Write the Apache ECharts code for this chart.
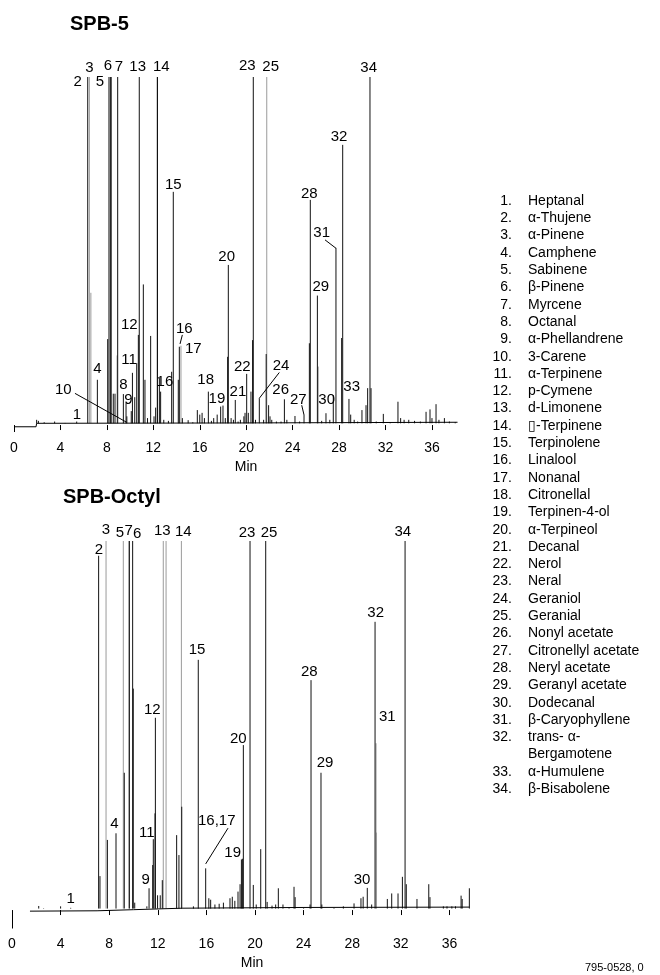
<!DOCTYPE html>
<html><head><meta charset="utf-8">
<script src="https://cdn.jsdelivr.net/npm/echarts@6/dist/echarts.min.js"></script>
<style>html,body{margin:0;padding:0;background:#fff}#c{width:660px;height:975px}</style>
</head><body><div id="c"></div>
<script>
const FONT = '"Liberation Sans", Arial, sans-serif';
const tickValues = [0,4,8,12,16,20,24,28,32,36];
const compounds = ['Heptanal','α-Thujene','α-Pinene','Camphene','Sabinene','β-Pinene','Myrcene','Octanal','α-Phellandrene','3-Carene','α-Terpinene','p-Cymene','d-Limonene','\u25AF-Terpinene','Terpinolene','Linalool','Nonanal','Citronellal','Terpinen-4-ol','α-Terpineol','Decanal','Nerol','Neral','Geraniol','Geranial','Nonyl acetate','Citronellyl acetate','Neryl acetate','Geranyl acetate','Dodecanal','β-Caryophyllene','trans- α-\nBergamotene','α-Humulene','β-Bisabolene'];

// ---- SPB-5 (top) : [retention time (min), response (% full scale)]
const spb5Baseline = [[0,-0.5],[1.9,-0.5],[1.95,0.5],[20,0.6],[38.2,0.8]];
const spb5Black = [
[1.95,1.5],[2.1,1.2],[2.6,0.8],[3.5,1.0],[4.4,0.6],[5.4,1.0],
[6.35,100],[7.18,13],[8.07,24.7],[8.18,100],[8.3,100],[8.37,100],[8.55,9],[8.7,9],[8.93,100],
[9.42,8.9],[9.65,6.3],[9.72,2.5],[10.1,4],[10.2,15],[10.4,8],[10.57,17.8],[10.71,25.9],[10.79,100],
[11.14,40.4],[11.28,13],[11.5,2],[11.77,25.6],[12.06,2.5],[12.2,5],[12.36,100],[12.52,13.5],[12.63,9.6],[12.9,1.5],
[13.3,1.2],[13.58,15.3],[13.72,67],[14.15,13],[14.24,22.5],[14.5,2],[15.0,1.4],[15.4,0.8],[15.79,4.3],[16.0,3],[16.2,3.5],[16.4,2],
[16.74,9.6],[17.0,1.2],[17.2,2],[17.5,3],[17.8,5.3],[18.0,5.6],[18.2,2],[18.4,19.6],[18.46,46],[18.7,2],[18.9,1.5],
[19.06,7.2],[19.3,1],[19.5,1.5],[19.8,2.5],[19.9,3.5],[20.04,14.7],[20.18,3.5],[20.41,9.6],[20.55,24.4],[20.61,100],
[20.8,1.5],[21.13,7.7],[21.5,1.5],[21.72,20.4],[21.93,5.7],[22.05,2.5],[22.2,1.5],[22.6,1],[23.0,1],[23.29,7.4],[23.5,1.5],
[24.2,2.6],[24.6,1],[24.98,2.9],[25.44,23.5],[25.52,64.7],[26.13,37.2],[26.5,1.2],[26.87,3.4],[27.2,1.5],[27.5,8.6],[27.73,50.9],
[28.22,25],[28.31,80.5],[28.85,7.5],[29.0,3],[29.3,1.5],[29.6,1],[29.97,4.3],[30.32,5.7],[30.46,10.6],[30.66,100],[30.75,10.6],
[31.2,1],[31.81,3.2],[32.4,0.8],[33.07,6.7],[33.3,2],[33.6,1.5],[34.0,1.5],[34.5,1.2],[35.0,1],[35.49,3.8],[35.83,4.5],[36.0,2],[36.35,6],[36.6,1.5],[37.07,2],[37.5,1],[38.0,0.8]
];
const spb5Grey = [[6.49,100],[6.62,38],[8.88,20],[12.32,100],[14.38,22.8],[21.77,100],[26.2,16.8]];
const spb5Labels = [['1',5.43,2.9],['2',5.48,98.6],['3',6.49,102.5],['4',7.18,16.1],['5',7.41,98.6],['6',8.1,103.2],['7',9.04,103],['13',10.65,103],['14',12.69,103],['15',13.72,69],['23',20.1,103.2],['25',22.11,103],['34',30.55,102.7],['32',27.99,82.7],['28',25.44,66.4],['31',26.5,55.1],['20',18.32,48.4],['29',26.42,39.7],['12',9.93,28.7],['16',14.67,27.6],['17',15.44,21.8],['11',9.9,18.7],['22',19.66,16.6],['24',23.0,17],['18',16.51,12.9],['16',13.0,12.4],['8',9.42,11.5],['10',4.25,10.1],['26',22.97,10.1],['21',19.29,9.6],['33',29.08,11],['9',9.85,7.2],['19',17.48,7.6],['27',24.49,7.2],['30',26.93,7.2]];
const spb5Leaders = [[[5.25,9.1],[9.7,0.8]],[[14.5,25.9],[14.3,23.3]],[[22.85,15.1],[21.13,7.7]],[[24.78,5.7],[24.98,2.9]],[[26.79,53.2],[27.73,50.8]],[[0,-0.5],[0,-2]]];

// ---- SPB-Octyl (bottom)
const octBaseline = [[1.48,-0.3],[7,-0.2],[10,0.1],[14,0.5],[24,0.7],[37.64,0.8]];
const octBlack = [
[2.2,1.1],[2.6,0.5],[3.0,0.4],[3.4,0.4],[4.0,1.0],[4.83,0.6],
[7.13,96],[7.24,9.2],[7.85,19],[8.56,20.8],[9.24,37.2],[9.66,100],[9.93,100],[9.98,60],[10.1,2],
[11.1,1],[11.28,5.9],[11.58,12.2],[11.63,19.2],[11.77,26.2],[11.8,52.1],[11.98,4],[12.2,4],[12.37,8.1],
[13.55,20.3],[13.74,14.9],[13.97,28],[14.93,1],[15.33,67.8],[15.94,11.3],[16.2,3.2],[16.35,2.8],[16.7,1.5],[17.05,1.7],[17.4,2],
[17.94,3.2],[18.13,3.6],[18.34,2.5],[18.6,5],[18.77,7],[18.88,13.7],[18.96,13.9],[19.04,44.7],[19.59,100],[19.86,6.8],
[20.1,1.5],[20.47,16.5],[20.88,100],[21.0,2.2],[21.4,1.2],[21.7,1.5],[21.92,5.9],[22.3,1.5],[22.8,0.8],[23.21,6.3],[23.3,3.5],
[24.0,0.8],[24.53,1.5],[24.61,62.3],[25.43,37.2],[25.5,1.5],[26.5,0.6],[27.27,1],[28.15,1.8],[28.72,3.2],[28.9,3.6],[29.24,6],
[29.6,1.5],[29.88,78.1],[30.89,3],[31.25,4.5],[31.77,4.5],[32.13,9],[32.35,100],[32.45,7],[33.33,3],[34.3,7],[34.4,3.5],
[35.5,1],[35.8,1],[36.2,1],[36.5,1],[36.96,3.9],[37.05,3],[37.64,5.9]
];
const octGrey = [[7.74,100],[9.16,100],[9.62,100],[12.45,100],[12.68,100],[13.94,100],[29.96,45.2],[30.0,21]];
const octLabels = [['1',4.83,3],['2',7.16,97.6],['3',7.74,103],['5',8.89,102.2],['7',9.6,102.7],['6',10.31,101.9],['13',12.37,102.7],['14',14.1,102.4],['23',19.34,102.2],['25',21.15,102.2],['34',32.16,102.5],['15',15.23,70.5],['28',24.47,64.6],['32',29.93,80.6],['31',30.89,52.4],['12',11.55,54.2],['20',18.63,46.5],['29',25.76,39.8],['4',8.42,23.3],['11',11.09,20.8],['16,17',16.85,24.2],['19',18.16,15.5],['9',11.0,8.1],['30',28.81,8.3]];
const octLeaders = [[[17.78,22.2],[15.94,12.5]],[[0,-0.3],[0,-5]]];

const chart = echarts.init(document.getElementById('c'), null, {renderer:'canvas'});

function peakSeries(data, idx, base, color){
  return {type:'custom', xAxisIndex:idx, yAxisIndex:idx, data:data, silent:true, clip:true,
    renderItem:function(params, api){
      const t = api.value(0), h = api.value(1);
      const p0 = api.coord([t, base]), p1 = api.coord([t, h]);
      return {type:'line', shape:{x1:p0[0],y1:p0[1],x2:p1[0],y2:p1[1]}, style:{stroke:color, lineWidth:1}};
    }};
}
function labelSeries(data, idx){
  return {type:'scatter', xAxisIndex:idx, yAxisIndex:idx, clip:false, silent:true, symbolSize:1,
    itemStyle:{color:'rgba(0,0,0,0)'},
    data:data.map(d=>({name:d[0], value:[d[1],d[2]]})),
    label:{show:true, position:'inside', formatter:p=>p.name, color:'#000', fontSize:15, fontFamily:FONT,
      textBorderWidth:0, textBorderColor:'transparent', opacity:1}};
}
function leaderSeries(data, idx){
  return {type:'lines', coordinateSystem:'cartesian2d', xAxisIndex:idx, yAxisIndex:idx, silent:true,
    data:data.map(c=>({coords:c})), lineStyle:{color:'#000', width:1, opacity:1}};
}
function baseSeries(data, idx){
  return {type:'line', xAxisIndex:idx, yAxisIndex:idx, data:data, showSymbol:false, silent:true,
    lineStyle:{color:'#000', width:1}};
}
function xAxisCfg(idx){
  return {type:'value', gridIndex:idx, min:0, max:38.5, interval:4,
    axisLine:{show:false}, splitLine:{show:false},
    axisTick:{show:true, length:5, customValues:tickValues, lineStyle:{color:'#000'}},
    axisLabel:{show:true, customValues:tickValues, margin:9, color:'#000', fontSize:14, fontFamily:FONT}};
}

const legendEls = [];
let row = 0;
const rowH = 17.3, y0 = 201;
compounds.forEach((name, i) => {
  const y = y0 + row*rowH;
  legendEls.push({type:'text', x:512, y:y, style:{text:(i+1)+'.', font:'14px '+FONT, fill:'#000', align:'right', verticalAlign:'middle'}});
  name.split('\n').forEach((ln, k) => {
    legendEls.push({type:'text', x:528, y:y + k*rowH, style:{text:ln, font:'14px '+FONT, fill:'#000', align:'left', verticalAlign:'middle'}});
  });
  row += name.split('\n').length;
});

chart.setOption({
  animation:false,
  backgroundColor:'#fff',
  grid:[
    {left:14, top:77, width:447, height:355},
    {left:12, top:541, width:467.8, height:387.5}
  ],
  xAxis:[xAxisCfg(0), xAxisCfg(1)],
  yAxis:[
    {type:'value', gridIndex:0, min:-2, max:100, show:false},
    {type:'value', gridIndex:1, min:-5, max:100, show:false}
  ],
  series:[
    baseSeries(spb5Baseline,0), peakSeries(spb5Grey,0,0.5,'#9a9a9a'), peakSeries(spb5Black,0,0.5,'#111'),
    labelSeries(spb5Labels,0), leaderSeries(spb5Leaders,0),
    baseSeries(octBaseline,1), peakSeries(octGrey,1,0.4,'#9a9a9a'), peakSeries(octBlack,1,0.4,'#111'),
    labelSeries(octLabels,1), leaderSeries(octLeaders,1)
  ],
  graphic:[
    {type:'text', x:70, y:24, style:{text:'SPB-5', font:'bold 20px '+FONT, fill:'#000', verticalAlign:'middle'}},
    {type:'text', x:63, y:497, style:{text:'SPB-Octyl', font:'bold 20px '+FONT, fill:'#000', verticalAlign:'middle'}},
    {type:'text', x:246, y:467, style:{text:'Min', font:'14px '+FONT, fill:'#000', align:'center', verticalAlign:'middle'}},
    {type:'text', x:252, y:963, style:{text:'Min', font:'14px '+FONT, fill:'#000', align:'center', verticalAlign:'middle'}},
    {type:'text', x:585, y:968, style:{text:'795-0528, 0', font:'11px '+FONT, fill:'#000', verticalAlign:'middle'}}
  ].concat(legendEls)
});
</script></body></html>
